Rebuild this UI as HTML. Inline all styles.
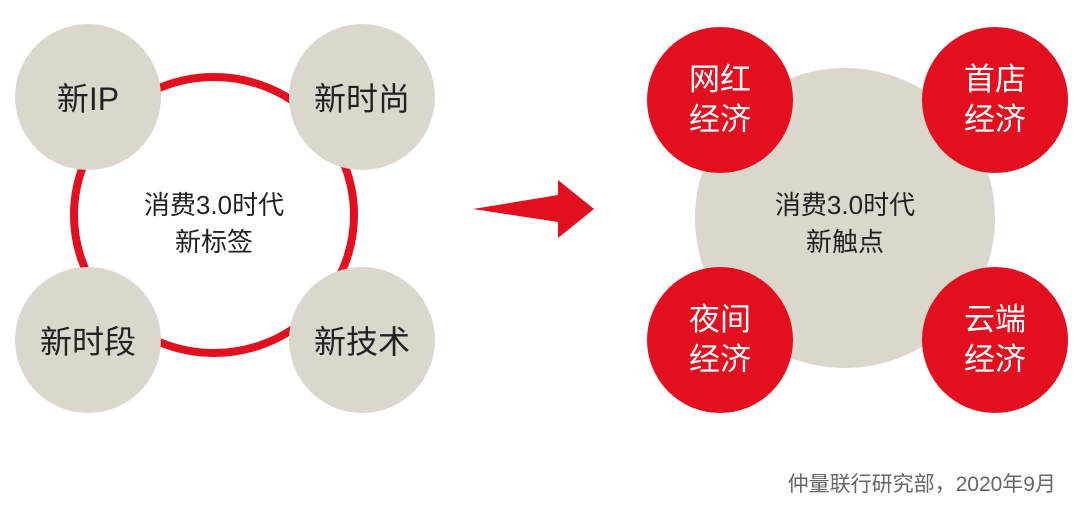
<!DOCTYPE html>
<html><head><meta charset="utf-8"><style>
html,body{margin:0;padding:0;background:#fff;}
body{width:1080px;height:513px;position:relative;overflow:hidden;font-family:"Liberation Sans","Noto Sans CJK SC",sans-serif;}
.c{position:absolute;border-radius:50%;display:flex;align-items:center;justify-content:center;text-align:center;}
.b{background:#dcd7cc;color:#222;font-size:32px;width:146px;height:146px;}
.r{background:#e30f1e;color:#fff;font-size:31px;line-height:40px;width:146px;height:146px;}
.t{position:absolute;text-align:center;font-size:26px;line-height:37px;color:#222;}
</style></head><body>
<svg width="1080" height="513" style="position:absolute;left:0;top:0">
<ellipse cx="214" cy="215" rx="140" ry="138" fill="none" stroke="#e30f1e" stroke-width="8"/>
<polygon points="473,209 558,195 558,180 594,209 558,238 558,222" fill="#e30f1e"/>
</svg>
<div class="c b" style="left:15px;top:24px">新IP</div>
<div class="c b" style="left:289px;top:24px">新时尚</div>
<div class="c b" style="left:15px;top:267px">新时段</div>
<div class="c b" style="left:289px;top:267px">新技术</div>
<div class="t" style="left:114px;top:187px;width:200px">消费3.0时代<br>新标签</div>
<div class="c" style="left:695px;top:68px;width:300px;height:300px;background:#dcd7cc"></div>
<div class="t" style="left:745px;top:187px;width:200px">消费3.0时代<br>新触点</div>
<div class="c r" style="left:647px;top:27px">网红<br>经济</div>
<div class="c r" style="left:922px;top:27px">首店<br>经济</div>
<div class="c r" style="left:647px;top:267px">夜间<br>经济</div>
<div class="c r" style="left:922px;top:267px">云端<br>经济</div>
<div style="position:absolute;right:24px;top:468px;font-size:21px;color:#666">仲量联行研究部，2020年9月</div>
</body></html>
